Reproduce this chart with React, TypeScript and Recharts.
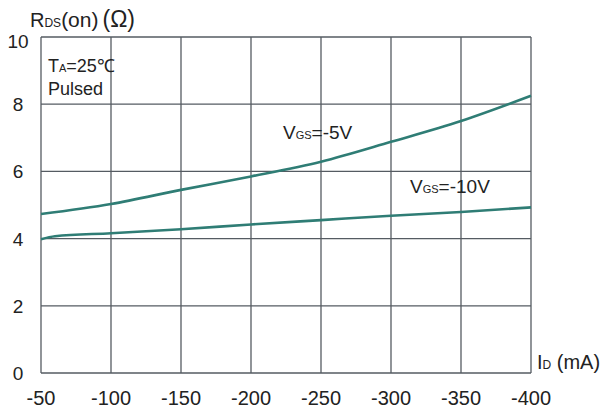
import { LineChart, Line, XAxis, YAxis, CartesianGrid } from 'recharts';

// I_D (mA) along the axis, left to right
const xTicks = [-50, -100, -150, -200, -250, -300, -350, -400];
const yTicks = [0, 2, 4, 6, 8, 10];

// V_GS = -5V
const vgs5Current = [-50, -100, -150, -200, -250, -300, -350, -400];
const vgs5Rds = [4.73, 5.03, 5.45, 5.85, 6.29, 6.88, 7.5, 8.25];

// V_GS = -10V
const vgs10Current = [-50, -60, -100, -150, -200, -250, -300, -350, -400];
const vgs10Rds = [3.98, 4.07, 4.16, 4.28, 4.42, 4.55, 4.68, 4.79, 4.93];

const vgs5Data = vgs5Current.map((x, i) => ({ x, y: vgs5Rds[i] }));
const vgs10Data = vgs10Current.map((x, i) => ({ x, y: vgs10Rds[i] }));

const FONT = '"Liberation Sans", Arial, sans-serif';
const TEXT = '#222';
const CURVE = '#2f7d75';

const YTick = (props: any) => {
  const { y, payload } = props;
  const shift = payload.value === 10 ? 4 : 0;
  return (
    <text x={18} y={y + 7 + shift} textAnchor="middle" fontFamily={FONT} fontSize={19} fill={TEXT}>
      {payload.value}
    </text>
  );
};

const XTick = (props: any) => {
  const { x, payload } = props;
  return (
    <text x={x} y={405} textAnchor="middle" fontFamily={FONT} fontSize={20} fill={TEXT}>
      {payload.value}
    </text>
  );
};

export default function App() {
  return (
    <div style={{ position: 'fixed', left: 0, top: 0, width: 605, height: 411, background: '#fff' }}>
      <LineChart width={605} height={411} margin={{ top: 37, right: 74, left: 0, bottom: 0 }}>
        <CartesianGrid stroke="#555b62" strokeWidth={1.3} />
        <XAxis
          type="number"
          dataKey="x"
          domain={[-400, -50]}
          reversed
          ticks={xTicks}
          interval={0}
          height={38}
          axisLine={false}
          tickLine={false}
          tick={XTick}
        />
        <YAxis
          type="number"
          domain={[0, 10]}
          ticks={yTicks}
          interval={0}
          width={41}
          axisLine={false}
          tickLine={false}
          tick={YTick}
        />
        <Line data={vgs5Data} dataKey="y" type="monotone" stroke={CURVE} strokeWidth={2.6} dot={false} isAnimationActive={false} />
        <Line data={vgs10Data} dataKey="y" type="monotone" stroke={CURVE} strokeWidth={2.6} dot={false} isAnimationActive={false} />
      </LineChart>
      <svg width={605} height={411} style={{ position: 'absolute', left: 0, top: 0, pointerEvents: 'none' }}>
        <g fontFamily={FONT} fill={TEXT}>
          <text x={30} y={27} fontSize={20}>
            R<tspan fontSize={12}>DS</tspan>
            <tspan fontSize={21}>(on)</tspan>
            <tspan dx={4} fontSize={23}>(Ω)</tspan>
          </text>
          <text x={48} y={72} fontSize={18}>
            T<tspan fontSize={11}>A</tspan>=25℃
          </text>
          <text x={48} y={95} fontSize={18}>Pulsed</text>
          <text x={283} y={139} fontSize={19}>
            V<tspan fontSize={11}>GS</tspan>=-5V
          </text>
          <text x={410} y={193} fontSize={19}>
            V<tspan fontSize={11}>GS</tspan>=-10V
          </text>
          <text x={537} y={369} fontSize={20}>
            I<tspan fontSize={12}>D</tspan> (mA)
          </text>
        </g>
      </svg>
    </div>
  );
}
